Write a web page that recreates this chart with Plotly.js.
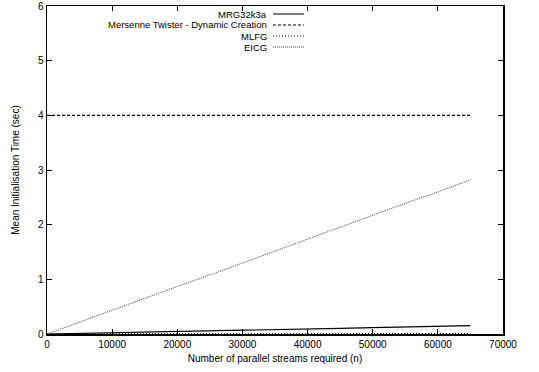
<!DOCTYPE html>
<html>
<head>
<meta charset="utf-8">
<script src="https://cdn.plot.ly/plotly-3.0.1.min.js"></script>
<style>html,body{margin:0;padding:0;background:#fff;}#chart{width:539px;height:372px;}</style>
</head>
<body>
<div id="chart"></div>
<script>
// Data
const streams = [1, 5000, 10000, 15000, 20000, 25000, 30000, 35000, 40000, 45000, 50000, 55000, 60000, 65000];
const mrg32k3a = [0.0, 0.01, 0.02, 0.033, 0.045, 0.057, 0.068, 0.08, 0.092, 0.104, 0.116, 0.128, 0.14, 0.152];
const mersenne = [4.0, 4.0, 4.0, 4.0, 4.0, 4.0, 4.0, 4.0, 4.0, 4.0, 4.0, 4.0, 4.0, 4.0];
const mlfg = [0.0, 0.001, 0.001, 0.002, 0.002, 0.003, 0.003, 0.004, 0.004, 0.005, 0.005, 0.006, 0.006, 0.007];
const eicg = [0.0, 0.22, 0.43, 0.65, 0.87, 1.08, 1.30, 1.52, 1.74, 1.95, 2.17, 2.39, 2.60, 2.82];
const seriesNames = ["MRG32k3a", "Mersenne Twister - Dynamic Creation", "MLFG", "EICG"];
const xTickVals = [0, 10000, 20000, 30000, 40000, 50000, 60000, 70000];
const yTickVals = [0, 1, 2, 3, 4, 5, 6];

const styles = [
  {color: '#000', width: 1.2, dash: 'solid'},
  {color: '#000', width: 1.2, dash: '3px,2px'},
  {color: '#000', width: 1.2, dash: '1px,2px'},
  {color: '#444', width: 1, dash: '1px,1px'}
];
const values = [mrg32k3a, mersenne, mlfg, eicg];

const traces = values.map((v, i) => ({
  x: streams, y: v, type: 'scatter', mode: 'lines', name: seriesNames[i],
  line: styles[i], showlegend: false, hoverinfo: 'skip'
}));

// custom gnuplot-style legend (text right-aligned, key to its right)
const rowY = [0.9756, 0.9421, 0.9085, 0.8750];
const annotations = seriesNames.map((n, i) => ({
  xref: 'paper', yref: 'paper', x: 0.4846, y: rowY[i], xanchor: 'right', yanchor: 'middle',
  text: n, showarrow: false, borderpad: 0,
  font: {family: 'Liberation Sans, Arial, sans-serif', size: 9.5, color: '#000'}
}));
const shapes = styles.map((s, i) => ({
  type: 'line', xref: 'paper', yref: 'paper', x0: 0.4956, x1: 0.5636, y0: rowY[i], y1: rowY[i],
  line: {color: s.color, width: s.width, dash: s.dash}
}));

const axisCommon = {
  showgrid: false, zeroline: false, showline: true, linecolor: '#000', linewidth: 1.5,
  mirror: 'allticks', ticks: 'inside', ticklen: 5, tickcolor: '#000', tickwidth: 1,
  tickfont: {family: 'Liberation Sans, Arial, sans-serif', size: 10, color: '#000'}
};

const layout = {
  width: 539, height: 372,
  margin: {l: 47, r: 36, t: 6, b: 38},
  paper_bgcolor: '#fff', plot_bgcolor: '#fff',
  font: {family: 'Liberation Sans, Arial, sans-serif', size: 10, color: '#000'},
  xaxis: Object.assign({}, axisCommon, {
    range: [0, 70000], tickvals: xTickVals, ticktext: xTickVals.map(String),
    title: {text: 'Number of parallel streams required (n)', font: {size: 10}, standoff: 6}
  }),
  yaxis: Object.assign({}, axisCommon, {
    range: [0, 6], tickvals: yTickVals, ticktext: yTickVals.map(String),
    title: {text: 'Mean Initialisation Time (sec)', font: {size: 10}, standoff: 16}
  }),
  annotations: annotations,
  shapes: shapes,
  showlegend: false
};

Plotly.newPlot('chart', traces, layout, {staticPlot: true, displayModeBar: false});
</script>
</body>
</html>
